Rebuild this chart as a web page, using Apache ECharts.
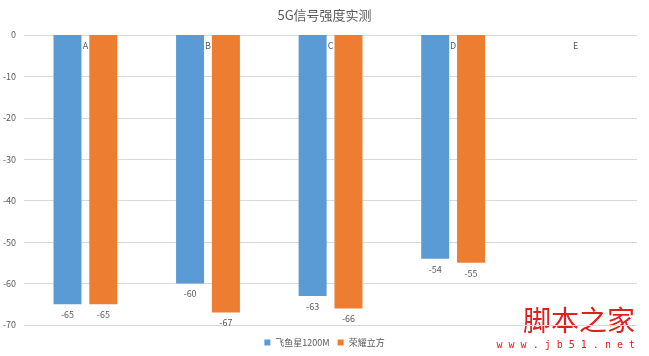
<!DOCTYPE html>
<html><head><meta charset="utf-8">
<script src="https://cdn.jsdelivr.net/npm/echarts@6/dist/echarts.min.js"></script>
<style>html,body{margin:0;padding:0;background:#fff}#c{width:649px;height:356px}</style>
</head><body><div id="c"></div>
<script>
var categories = ['A','B','C','D','E'];
var seriesNames = ['飞鱼星1200M','荣耀立方'];
var feiyuxing = [-65, -60, -63, -54, null];
var rongyao = [-65, -67, -66, -55, null];
var yTicks = {min: -70, max: 0, interval: 10};

var chart = echarts.init(document.getElementById('c'));
var font = '"Microsoft YaHei","Noto Sans CJK SC",sans-serif';
chart.setOption({
  animation: false,
  title: {text: '5G信号强度实测', left: 'center', top: 4,
    textStyle: {fontSize: 13, fontWeight: 'normal', color: '#595959', fontFamily: font}},
  legend: {bottom: 4, left: 'center', itemWidth: 6, itemHeight: 6, itemGap: 8, icon: 'rect',
    textStyle: {fontSize: 9, color: '#595959', fontFamily: font}},
  grid: {left: 22, right: 12, top: 35, bottom: 31},
  xAxis: {type: 'category', data: categories, position: 'top',
    axisLine: {show: true, lineStyle: {color: '#D9D9D9'}}, axisTick: {show: false},
    axisLabel: {inside: true, margin: 6, fontSize: 9, color: '#595959', fontFamily: font}},
  yAxis: {type: 'value', min: yTicks.min, max: yTicks.max, interval: yTicks.interval,
    axisLine: {show: false}, axisTick: {show: false},
    splitLine: {lineStyle: {color: '#D9D9D9'}},
    axisLabel: {fontSize: 9, color: '#595959', margin: 8, fontFamily: font}},
  series: [
    {name: seriesNames[0], type: 'bar', data: feiyuxing, barWidth: 28, barGap: '28%',
      itemStyle: {color: '#5B9BD5'},
      label: {show: true, position: 'bottom', distance: 6, fontSize: 9, color: '#595959', fontFamily: font}},
    {name: seriesNames[1], type: 'bar', data: rongyao, barWidth: 28,
      itemStyle: {color: '#ED7D31'},
      label: {show: true, position: 'bottom', distance: 6, fontSize: 9, color: '#595959', fontFamily: font}}
  ],
  graphic: [
    {type: 'text', right: 14, top: 306, style: {text: '脚本之家', fontSize: 28, fill: '#E0201F',
      fontFamily: '"Noto Sans CJK SC",sans-serif'}},
    {type: 'text', right: 14, top: 340, style: {text: 'w w w . j b 5 1 . n e t', fontSize: 10, fill: '#E0201F',
      fontFamily: 'monospace'}}
  ]
});
</script></body></html>
